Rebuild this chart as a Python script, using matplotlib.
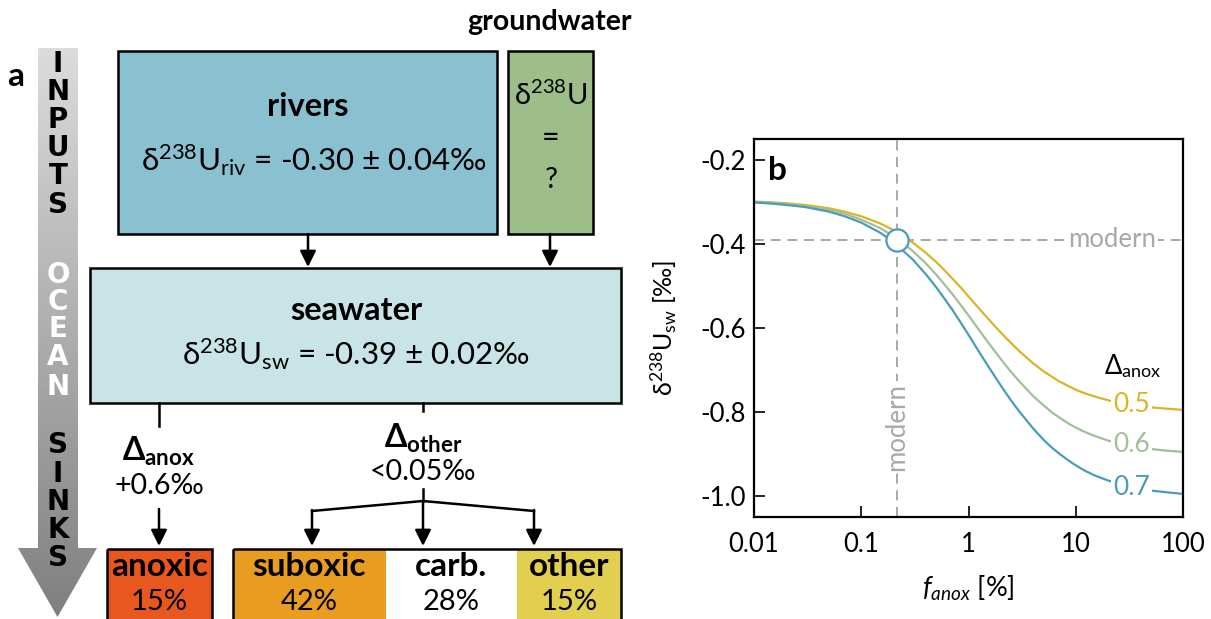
import numpy as np
import matplotlib
matplotlib.use("Agg")
import matplotlib.pyplot as plt
from matplotlib.patches import Rectangle, Polygon

plt.rcParams['font.family'] = ['Lato', 'DejaVu Sans']
plt.rcParams['mathtext.fontset'] = 'custom'
plt.rcParams['mathtext.rm'] = 'Lato'
plt.rcParams['mathtext.it'] = 'Lato:italic'
plt.rcParams['mathtext.bf'] = 'Lato:bold'
plt.rcParams['mathtext.fallback'] = 'stixsans'

# ---------------- data ----------------
# anoxic seafloor fraction [%]
f_anox = [0.01, 0.015, 0.02, 0.03, 0.05, 0.07, 0.1, 0.15, 0.2, 0.3, 0.4,
          0.5, 0.6, 0.7, 0.85, 1, 1.2, 1.5, 2, 2.5, 3, 4, 5, 6, 7, 8.5, 10,
          12, 15, 20, 25, 30, 40, 50, 70, 100]
# seawater d238U [permil] for each anoxic fractionation factor
d_sw_05 = [-0.299, -0.301, -0.303, -0.307, -0.315, -0.323, -0.334, -0.351,
           -0.367, -0.396, -0.421, -0.443, -0.463, -0.481, -0.504, -0.525,
           -0.548, -0.576, -0.611, -0.636, -0.656, -0.684, -0.703, -0.716,
           -0.727, -0.738, -0.747, -0.755, -0.763, -0.772, -0.778, -0.781,
           -0.786, -0.789, -0.792, -0.795]
d_sw_06 = [-0.300, -0.302, -0.305, -0.310, -0.319, -0.328, -0.342, -0.362,
           -0.381, -0.416, -0.446, -0.473, -0.497, -0.518, -0.546, -0.570,
           -0.598, -0.632, -0.674, -0.705, -0.728, -0.762, -0.784, -0.801,
           -0.813, -0.827, -0.837, -0.847, -0.857, -0.868, -0.874, -0.879,
           -0.884, -0.888, -0.892, -0.895]
d_sw_07 = [-0.301, -0.304, -0.307, -0.312, -0.323, -0.334, -0.349, -0.373,
           -0.396, -0.436, -0.472, -0.503, -0.531, -0.555, -0.588, -0.616,
           -0.649, -0.688, -0.737, -0.773, -0.800, -0.839, -0.866, -0.885,
           -0.899, -0.915, -0.927, -0.939, -0.951, -0.963, -0.971, -0.976,
           -0.983, -0.987, -0.991, -0.995]
delta_labels = ['0.5', '0.6', '0.7']
label_y = [-0.782, -0.878, -0.979]
modern_f = 0.215
modern_d = -0.39

xticks = [0.01, 0.1, 1, 10, 100]
xticklabels = ['0.01', '0.1', '1', '10', '100']
yticks = [-0.2, -0.4, -0.6, -0.8, -1.0]
yticklabels = ['-0.2', '-0.4', '-0.6', '-0.8', '-1.0']

sink_names = ['anoxic', 'suboxic', 'carb.', 'other']
sink_share = [15, 42, 28, 15]

river_d, river_err = -0.30, 0.04
sw_d, sw_err = -0.39, 0.02
d_anox_txt = '+0.6‰'
d_other_txt = '<0.05‰'

# ---------------- colours ----------------
c_river = '#89c1d1'
c_ground = '#9dbd89'
c_sea = '#c8e4e6'
sink_colors = ['#e8581e', '#e89c20', '#ffffff', '#e2cf50']
curve_colors = ['#d9b526', '#a3bf98', '#4a9db8']
grey_txt = '#a8a8a8'

W, H = 1211, 619
fig = plt.figure(figsize=(W / 100, H / 100), dpi=100)

# ---------------- panel a: flow diagram in pixel units ----------------
ax0 = fig.add_axes([0, 0, 1, 1])

# shaded arrow on the left
grad = np.linspace(0.86, 0.50, 256).reshape(-1, 1)
im = ax0.imshow(grad, cmap='gray', vmin=0, vmax=1, extent=[18, 97, 617, 48],
                aspect='auto', interpolation='bilinear', zorder=1)
arrow_poly = Polygon([(38, 48), (78, 48), (78, 548), (97, 548), (57.5, 617),
                      (18, 548), (38, 548)], closed=True, fc='none', ec='none')
ax0.add_patch(arrow_poly)
im.set_clip_path(arrow_poly)

letter_kw = dict(ha='center', va='center', fontsize=20, fontweight='bold',
                 family='DejaVu Sans', zorder=3)
for ch, y in zip('INPUTS', [64, 92, 120, 148, 176, 205]):
    ax0.text(58, y, ch, color='black', **letter_kw)
for ch, y in zip('OCEAN', [275, 302, 329, 357, 387]):
    ax0.text(58, y, ch, color='white', **letter_kw)
for ch, y in zip('SINKS', [445, 474, 502, 530, 558]):
    ax0.text(58, y, ch, color='black', **letter_kw)

ax0.text(16, 76, 'a', ha='center', va='center', fontsize=24, fontweight='bold')

box_lw = 1.8
# input boxes
ax0.add_patch(Rectangle((118, 51), 379, 183, fc=c_river, ec='black', lw=box_lw))
ax0.add_patch(Rectangle((508, 51), 85, 183, fc=c_ground, ec='black', lw=box_lw))
ax0.text(550, 22, 'groundwater', ha='center', va='center', fontsize=20.5,
         fontweight='bold')
ax0.text(308, 106, 'rivers', ha='center', va='center', fontsize=23.5,
         fontweight='bold')
ax0.text(314, 160,
         'δ$^{238}$U$_{\\mathrm{riv}}$ = %.2f ± %.2f‰' % (river_d, river_err),
         ha='center', va='center', fontsize=22.5)
ax0.text(551, 95, 'δ$^{238}$U', ha='center', va='center', fontsize=21)
ax0.text(551, 138, '=', ha='center', va='center', fontsize=22)
ax0.text(551, 180, '?', ha='center', va='center', fontsize=21)

# seawater box
ax0.add_patch(Rectangle((90, 268), 531, 135, fc=c_sea, ec='black', lw=box_lw))
ax0.text(356, 310, 'seawater', ha='center', va='center', fontsize=23.5,
         fontweight='bold')
ax0.text(356, 354,
         'δ$^{238}$U$_{\\mathrm{sw}}$ = %.2f ± %.2f‰' % (sw_d, sw_err),
         ha='center', va='center', fontsize=22.5)

arr_kw = dict(arrowstyle='-|>', mutation_scale=24, lw=1.8, color='black',
              shrinkA=0, shrinkB=0)


def arrow(x0, y0, x1, y1):
    ax0.annotate('', xy=(x1, y1), xytext=(x0, y0), arrowprops=arr_kw)


arrow(308, 234, 308, 267)
arrow(550, 234, 550, 267)

# sink branches
ax0.plot([159, 159], [403, 426], color='black', lw=1.8)
ax0.plot([423, 423], [403, 411], color='black', lw=1.8)
ax0.text(159, 451, r'$\mathbf{\Delta}_{\mathbf{anox}}$', ha='center',
         va='center', fontsize=23)
ax0.text(159, 486, d_anox_txt, ha='center', va='center', fontsize=20.5)
ax0.text(423, 438, r'$\mathbf{\Delta}_{\mathbf{other}}$', ha='center',
         va='center', fontsize=23)
ax0.text(423, 472, d_other_txt, ha='center', va='center', fontsize=20.5)
arrow(159, 509, 159, 546)
ax0.plot([423, 423], [489, 501], color='black', lw=1.8)
ax0.plot([312, 423, 534], [511, 501, 511], color='black', lw=1.8)
arrow(312, 510, 312, 546)
arrow(423, 501, 423, 546)
arrow(534, 510, 534, 546)

# sink boxes
sink_x = [107, 233, 385.5, 517]
sink_w = [105, 152.5, 131.5, 104]
for i, (name, share) in enumerate(zip(sink_names, sink_share)):
    x, w = sink_x[i], sink_w[i]
    ax0.add_patch(Rectangle((x, 549), w, 80, fc=sink_colors[i], ec='none'))
    ax0.text(x + w / 2, 567, name, ha='center', va='center', fontsize=24,
             fontweight='bold')
    ax0.text(x + w / 2, 602, '%d%%' % share, ha='center', va='center',
             fontsize=21)
ax0.add_patch(Rectangle((107, 549), 105, 80, fc='none', ec='black', lw=box_lw))
ax0.add_patch(Rectangle((233, 549), 388, 80, fc='none', ec='black', lw=box_lw))

ax0.set_xlim(0, W)
ax0.set_ylim(H, 0)
ax0.axis('off')

# ---------------- panel b: seawater d238U vs anoxic fraction ----------------
L, R, T, B = 754, 1183, 139, 517
ax = fig.add_axes([L / W, (H - B) / H, (R - L) / W, (B - T) / H])
ax.set_xscale('log')
ax.set_xlim(0.01, 100)
ax.set_ylim(-1.05, -0.15)

ax.axhline(modern_d, color='#9a9a9a', lw=1.2, ls=(0, (6, 4)), zorder=1)
ax.axvline(modern_f, color='#9a9a9a', lw=1.2, ls=(0, (6, 4)), zorder=1)

for ys, col in zip([d_sw_05, d_sw_06, d_sw_07], curve_colors):
    ax.plot(f_anox, ys, color=col, lw=1.6, zorder=2)

for txt, yv, col in zip(delta_labels, label_y, curve_colors):
    ax.text(33, yv, txt, color=col, fontsize=19, ha='center', va='center',
            zorder=4, bbox=dict(fc='white', ec='none', pad=1.5))
ax.text(34, -0.69, r'$\Delta_{\mathrm{anox}}$', fontsize=18.5, ha='center',
        va='center')

ax.plot(modern_f, modern_d, 'o', ms=16, mfc='white', mec=curve_colors[2],
        mew=1.6, zorder=5)
ax.text(22, modern_d, 'modern', color=grey_txt, fontsize=18.5, ha='center',
        va='center', zorder=3, bbox=dict(fc='white', ec='none', pad=1))
ax.text(modern_f, -0.835, 'modern', color=grey_txt, fontsize=18.5,
        ha='center', va='center', rotation=90, zorder=3,
        bbox=dict(fc='white', ec='none', pad=1))

ax.text(0.0135, -0.225, 'b', fontsize=24, fontweight='bold', ha='left',
        va='center')

ax.set_xticks(xticks)
ax.set_xticklabels(xticklabels)
ax.xaxis.set_minor_locator(matplotlib.ticker.NullLocator())
ax.set_yticks(yticks)
ax.set_yticklabels(yticklabels)
ax.tick_params(direction='in', length=8, width=1.2, labelsize=18.5)
ax.tick_params(axis='x', pad=11)
ax.tick_params(axis='y', pad=6)
for sp in ax.spines.values():
    sp.set_linewidth(1.6)

ax.set_xlabel(r'$f_{anox}$ [%]', fontsize=19.5)
ax.xaxis.set_label_coords(0.5, -0.15)
ax.set_ylabel('δ$^{238}$U$_{\\mathrm{sw}}$ [‰]', fontsize=18)
ax.yaxis.set_label_coords(-0.175, 0.5)

fig.savefig('out.png', dpi=100)
